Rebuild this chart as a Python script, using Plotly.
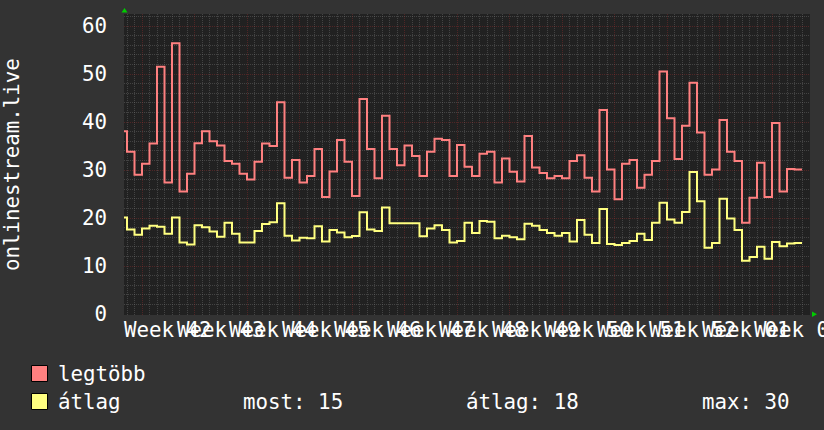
import numpy as np
import plotly.graph_objects as go

# ---- data (one value per day, first value is the partial day at the left edge) ----
legtobb = [38.1, 33.8, 29.0, 31.3, 35.5, 51.5, 27.4, 56.4, 25.5, 29.2,
           35.6, 38.1, 36.0, 35.1, 31.9, 31.3, 29.2, 28.0, 31.7, 35.5,
           35.0, 44.1, 28.4, 32.1, 27.4, 28.75, 34.4, 24.4, 29.7, 36.25,
           31.7, 24.6, 44.8, 34.4, 28.3, 41.3, 34.4, 31.0, 35.1, 32.9,
           28.75, 33.8, 36.5, 36.25, 28.75, 35.2, 30.7, 28.75, 33.4, 33.8,
           27.4, 32.4, 29.65, 27.6, 37.1, 30.5, 29.4, 28.3, 28.75, 28.3,
           31.9, 33.1, 28.4, 25.5, 42.5, 30.1, 23.9, 31.3, 32.1, 26.3,
           29.0, 31.9, 50.5, 40.8, 32.3, 39.2, 48.2, 37.8, 29.0, 30.1,
           40.4, 33.8, 31.9, 19.0, 24.2, 31.5, 24.4, 39.8, 25.5, 30.2,
           30.1]
atlag = [20.1, 17.6, 16.5, 17.8, 18.4, 18.2, 16.7, 20.1, 14.9, 14.5,
         18.5, 18.1, 17.2, 16.1, 19.0, 16.7, 14.9, 14.9, 17.3, 18.75,
         19.1, 23.1, 16.3, 15.3, 15.9, 15.8, 18.3, 15.1, 17.5, 17.0,
         16.0, 16.25, 21.2, 17.6, 17.3, 22.2, 18.9, 18.9, 18.9, 18.9,
         16.2, 17.8, 18.5, 17.5, 14.9, 15.2, 19.0, 16.9, 19.4, 19.2,
         15.8, 16.3, 16.0, 15.6, 18.8, 18.4, 17.5, 16.9, 16.3, 16.9,
         15.1, 19.6, 16.5, 14.8, 21.9, 14.6, 14.4, 14.8, 15.2, 16.7,
         15.4, 19.0, 23.2, 19.7, 19.0, 21.25, 29.6, 23.5, 13.8, 14.8,
         24.0, 19.9, 17.5, 11.1, 11.9, 14.0, 11.5, 15.0, 14.1, 14.7,
         14.8]
week_labels = ["Week 42", "Week 43", "Week 44", "Week 45", "Week 46", "Week 47",
               "Week 48", "Week 49", "Week 50", "Week 51", "Week 52", "Week 01",
               "Week 02"]
y_title = "onlinestream.live"
series_names = ["legtöbb", "átlag"]
stat_labels = ["most: 15", "átlag: 18", "max: 30"]

# ---- styling ----
FONT = "DejaVu Sans Mono"
FS = 20.8
BACK = "#333333"
CANVAS = "#212121"
RED = "#FF8080"
YEL = "#FFFF80"
MINOR = "rgba(128,128,128,0.36)"
MAJOR = "rgba(170,50,50,0.34)"

W, H = 824, 430
L, R, T, B = 124, 810, 14, 315


def px_x(p):
    return (p - L) / (R - L)


def px_y(p):
    return (B - p) / (B - T)


days = np.arange(-1, len(legtobb))          # day index of each value
x = np.append(days, days[-1] + 1)            # closing point for the step


def steps(vals):
    return list(vals) + [vals[-1]]


fig = go.Figure()
fig.add_trace(go.Scatter(x=x, y=steps(legtobb), mode="lines",
                         line=dict(color=RED, width=2, shape="hv"),
                         name=series_names[0], showlegend=False))
fig.add_trace(go.Scatter(x=x, y=steps(atlag), mode="lines",
                         line=dict(color=YEL, width=2, shape="hv"),
                         name=series_names[1], showlegend=False))

annotations = []
# week labels centred between weekly grid lines
for i, lab in enumerate(week_labels):
    annotations.append(dict(x=5.5 + 7 * i, y=px_y(330), xref="x", yref="paper",
                            text=lab, showarrow=False, xanchor="center",
                            yanchor="middle",
                            font=dict(family=FONT, size=FS, color="#FFFFFF")))
# vertical axis title
annotations.append(dict(x=px_x(11.5), y=0.5, xref="paper", yref="paper",
                        text=y_title, textangle=-90, showarrow=False,
                        xanchor="center", yanchor="middle",
                        font=dict(family=FONT, size=FS, color="#FFFFFF")))
# legend texts
legend_rows = [373.5, 401.5]
for name, ry in zip(series_names, legend_rows):
    annotations.append(dict(x=px_x(56), y=px_y(ry), xref="paper", yref="paper",
                            text=name, showarrow=False, xanchor="left",
                            yanchor="middle",
                            font=dict(family=FONT, size=FS, color="#FFFFFF")))
for lab, sx in zip(stat_labels, [241, 464, 700]):
    annotations.append(dict(x=px_x(sx), y=px_y(legend_rows[1]), xref="paper",
                            yref="paper", text=lab, showarrow=False,
                            xanchor="left", yanchor="middle",
                            font=dict(family=FONT, size=FS, color="#FFFFFF")))

shapes = []
for col, ry in zip([RED, YEL], legend_rows):
    shapes.append(dict(type="rect", xref="paper", yref="paper",
                       x0=px_x(31.5), x1=px_x(47.5), y0=px_y(ry + 8), y1=px_y(ry - 8),
                       fillcolor=col, line=dict(color="#000000", width=1)))
# green axis arrows
shapes.append(dict(type="path", xref="paper", yref="paper",
                   path=f"M {px_x(121.5)} {px_y(12.5)} L {px_x(127.5)} {px_y(12.5)} "
                        f"L {px_x(124.5)} {px_y(8)} Z",
                   fillcolor="#00CC00", line=dict(width=0)))
shapes.append(dict(type="path", xref="paper", yref="paper",
                   path=f"M {px_x(812)} {px_y(311.5)} L {px_x(812)} {px_y(317)} "
                        f"L {px_x(817)} {px_y(314.3)} Z",
                   fillcolor="#00CC00", line=dict(width=0)))

fig.update_layout(
    width=W, height=H,
    margin=dict(l=L, r=W - R, t=T, b=H - B, pad=0, autoexpand=False),
    paper_bgcolor=BACK, plot_bgcolor=CANVAS,
    font=dict(family=FONT, size=FS, color="#FFFFFF"),
    annotations=annotations, shapes=shapes,
    xaxis=dict(range=[(L - 127) / 7.5, (R - 127) / 7.5], automargin=False,
               tick0=2, dtick=7, showticklabels=False, ticks="",
               showgrid=True, gridcolor=MAJOR, griddash="1px,1px", gridwidth=1,
               zeroline=False, showline=False,
               minor=dict(tick0=0, dtick=1, showgrid=True, gridcolor=MINOR,
                          griddash="1px,1px", gridwidth=1)),
    yaxis=dict(range=[-0.2, 62.5], tick0=0, dtick=10, ticks="", automargin=False,
               showgrid=True, gridcolor=MAJOR, griddash="1px,1px", gridwidth=1,
               zeroline=False, showline=False, ticklabelstandoff=16,
               tickfont=dict(family=FONT, size=FS, color="#FFFFFF"),
               minor=dict(tick0=0, dtick=2, showgrid=True, gridcolor=MINOR,
                          griddash="1px,1px", gridwidth=1)),
)

fig.write_html("out.html",
               config={"displayModeBar": False},
               post_script="document.body.style.margin='0px';"
                           "document.body.style.background='" + BACK + "';")
